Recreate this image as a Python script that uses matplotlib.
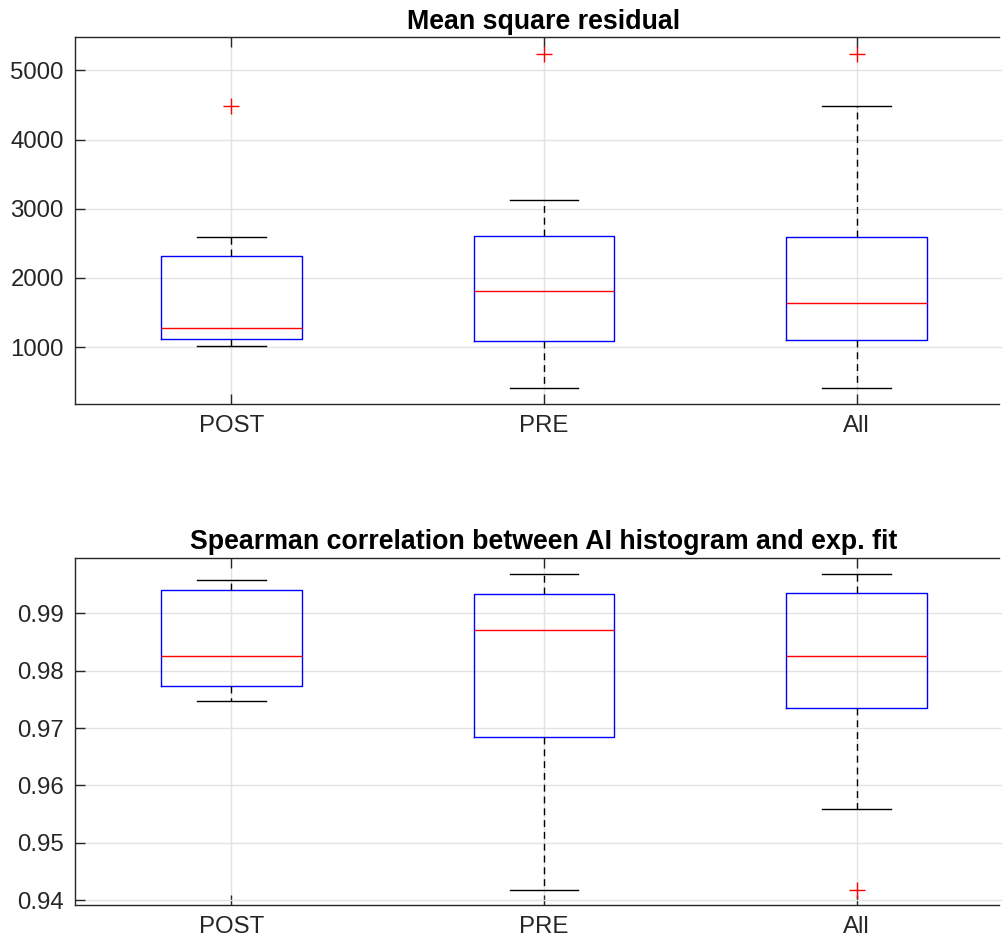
import matplotlib
matplotlib.use('agg')
import matplotlib.pyplot as plt

groups = ['POST', 'PRE', 'All']

# mean square residual: box stats
msr_whislo = [1019, 411, 411]
msr_q1 = [1120, 1091, 1106]
msr_med = [1284, 1818, 1636]
msr_q3 = [2324, 2605, 2591]
msr_whishi = [2593, 3130, 4480]
msr_fliers = [[4480], [5237], [5237]]

# spearman correlation
sp_whislo = [0.97467, 0.94185, 0.9559]
sp_q1 = [0.97728, 0.9684, 0.97355]
sp_med = [0.98251, 0.98704, 0.98251]
sp_q3 = [0.99406, 0.99331, 0.99348]
sp_whishi = [0.9958, 0.9969, 0.9969]
sp_fliers = [[], [], [0.94185]]

plt.rcParams['font.family'] = ['Liberation Sans', 'DejaVu Sans']
dark = '#262626'


def make_stats(lo, q1, med, q3, hi, fl):
    out = []
    for i in range(len(groups)):
        out.append({'whislo': lo[i], 'q1': q1[i], 'med': med[i], 'q3': q3[i],
                    'whishi': hi[i], 'fliers': fl[i], 'label': groups[i]})
    return out


def draw(ax, stats, title, ylim, yticks, ylabels):
    ax.bxp(stats, positions=[1, 2, 3], widths=0.45, showfliers=True,
           boxprops=dict(color='blue', linewidth=1.0),
           medianprops=dict(color='red', linewidth=1.0),
           whiskerprops=dict(color='black', linewidth=1.0, linestyle=(0, (5, 3.5))),
           capprops=dict(color='black', linewidth=1.0),
           flierprops=dict(marker='+', markeredgecolor='red', markersize=11,
                           markeredgewidth=1.0, linestyle='none'),
           capwidths=0.22, zorder=3)
    ax.set_xlim(0.5, 3.5)
    ax.set_ylim(*ylim)
    ax.set_yticks(yticks)
    ax.set_yticklabels(ylabels)
    ax.set_xticks([1, 2, 3])
    ax.set_xticklabels(groups)
    ax.grid(True, color='#e3e3e3', linewidth=1.0, zorder=0)
    ax.set_axisbelow(True)
    ax.tick_params(direction='in', length=7, width=1.0, colors=dark,
                   labelsize=17.3, top=True, right=False, pad=8)
    for s in ax.spines.values():
        s.set_color(dark)
        s.set_linewidth(1.0)
    # axes box runs past the right edge of the picture
    ax.spines['right'].set_visible(False)
    ax.spines['top'].set_bounds(0.5, 3.455)
    ax.spines['bottom'].set_bounds(0.5, 3.455)
    ax.set_title(title, fontsize=19.3, fontweight='bold', pad=6)


fig = plt.figure(figsize=(10.03, 9.47), dpi=100)
ax1 = fig.add_axes([0.0748, 0.5734, 0.935, 0.3875])
ax2 = fig.add_axes([0.0748, 0.0440, 0.935, 0.367])

draw(ax1, make_stats(msr_whislo, msr_q1, msr_med, msr_q3, msr_whishi, msr_fliers),
     'Mean square residual', (180, 5480),
     [1000, 2000, 3000, 4000, 5000], ['1000', '2000', '3000', '4000', '5000'])
draw(ax2, make_stats(sp_whislo, sp_q1, sp_med, sp_q3, sp_whishi, sp_fliers),
     'Spearman correlation between AI histogram and exp. fit', (0.9391, 0.9997),
     [0.94, 0.95, 0.96, 0.97, 0.98, 0.99], ['0.94', '0.95', '0.96', '0.97', '0.98', '0.99'])

plt.savefig('out.png', dpi=100)
